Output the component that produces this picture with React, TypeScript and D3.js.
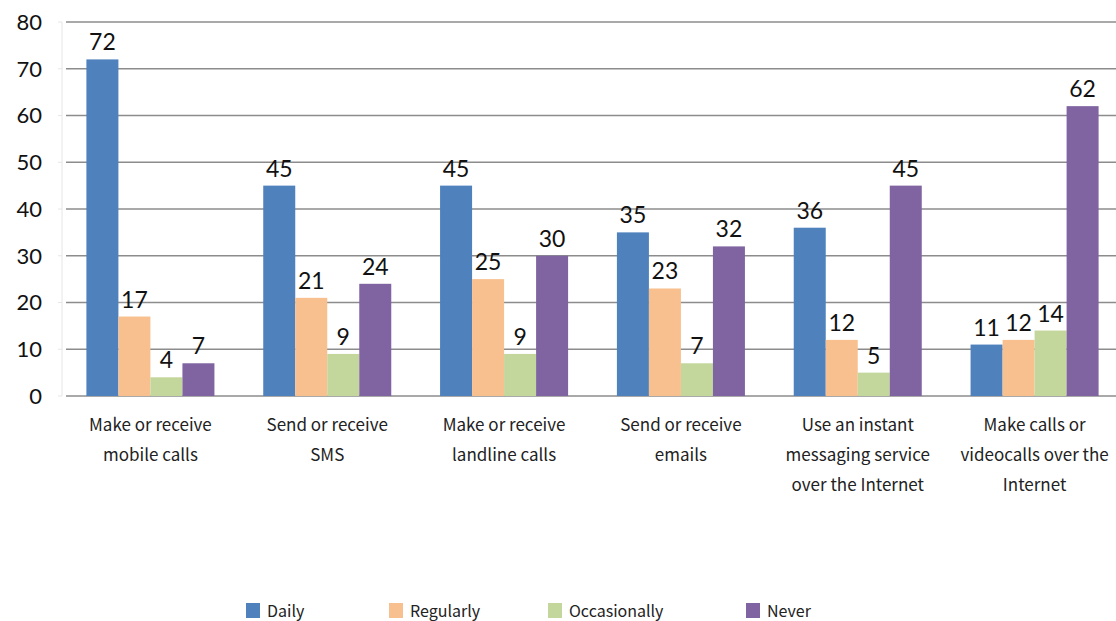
import React from "react";
import * as d3 from "d3";

const categories: string[][] = [
  ["Make or receive", "mobile calls"],
  ["Send or receive", "SMS"],
  ["Make or receive", "landline calls"],
  ["Send or receive", "emails"],
  ["Use an instant", "messaging service", "over the Internet"],
  ["Make calls or", "videocalls over the", "Internet"],
];

const seriesNames = ["Daily", "Regularly", "Occasionally", "Never"];
const seriesColors = ["#4F81BD", "#F9C08F", "#C3D69B", "#8064A2"];

const daily = [72, 45, 45, 35, 36, 11];
const regularly = [17, 21, 25, 23, 12, 12];
const occasionally = [4, 9, 9, 7, 5, 14];
const never = [7, 24, 30, 32, 45, 62];

const yTicks = [0, 10, 20, 30, 40, 50, 60, 70, 80];

const W = 1116;
const H = 621;
const left = 62;
const right = 1116;
const top = 22;
const bottom = 396;

const labelFont = "'Noto Sans CJK KR', 'Noto Sans', sans-serif";
const numFont = "Lato, 'Noto Sans', sans-serif";

export default function App() {
  const series = [daily, regularly, occasionally, never];
  // the category bands run slightly past the right edge of the frame
  const x = d3
    .scaleBand<number>()
    .domain(categories.map((_, i) => i))
    .range([left, 1123])
    .paddingInner(0.276)
    .paddingOuter(0.138);
  const inner = d3
    .scaleBand<number>()
    .domain(seriesNames.map((_, i) => i))
    .range([0, x.bandwidth()]);
  const y = d3.scaleLinear().domain([0, 80]).range([bottom, top]);

  const legendX = [246, 389, 548, 746];

  return (
    <svg
      width={W}
      height={H}
      style={{ position: "absolute", left: 0, top: 0, background: "#fff" }}
    >
      <line x1={left} x2={left} y1={top} y2={bottom} stroke="#e6e6e6" strokeWidth={1} />
      {yTicks.map((t) => (
        <g key={t}>
          <line
            x1={left + 4}
            x2={right}
            y1={y(t)}
            y2={y(t)}
            stroke="#8c8c8c"
            strokeWidth={1.5}
          />
          <line x1={left - 4} x2={left} y1={y(t)} y2={y(t)} stroke="#e6e6e6" strokeWidth={1} />
          <text
            x={42}
            y={y(t)}
            dy="0.36em"
            textAnchor="end"
            fontFamily={numFont}
            fontSize={22}
            fill="#111"
          >
            {t}
          </text>
        </g>
      ))}
      {categories.map((cat, ci) => (
        <g key={ci} transform={`translate(${x(ci)},0)`}>
          {series.map((s, si) => (
            <g key={si}>
              <rect
                x={inner(si)}
                y={y(s[ci])}
                width={inner.bandwidth()}
                height={y(0) - y(s[ci])}
                fill={seriesColors[si]}
              />
              <text
                x={(inner(si) as number) + inner.bandwidth() / 2}
                y={y(s[ci]) - 9}
                textAnchor="middle"
                fontFamily={numFont}
                fontSize={23}
                fill="#111"
              >
                {s[ci]}
              </text>
            </g>
          ))}
          {cat.map((line, li) => (
            <text
              key={li}
              x={x.bandwidth() / 2}
              y={431 + li * 30}
              textAnchor="middle"
              fontFamily={labelFont}
              fontSize={17}
              fill="#222"
            >
              {line}
            </text>
          ))}
        </g>
      ))}
      {seriesNames.map((name, i) => (
        <g key={name}>
          <rect x={legendX[i]} y={603} width={14} height={15} fill={seriesColors[i]} />
          <text
            x={legendX[i] + 21}
            y={611}
            dy="0.36em"
            fontFamily={labelFont}
            fontSize={16}
            fill="#222"
          >
            {name}
          </text>
        </g>
      ))}
    </svg>
  );
}
